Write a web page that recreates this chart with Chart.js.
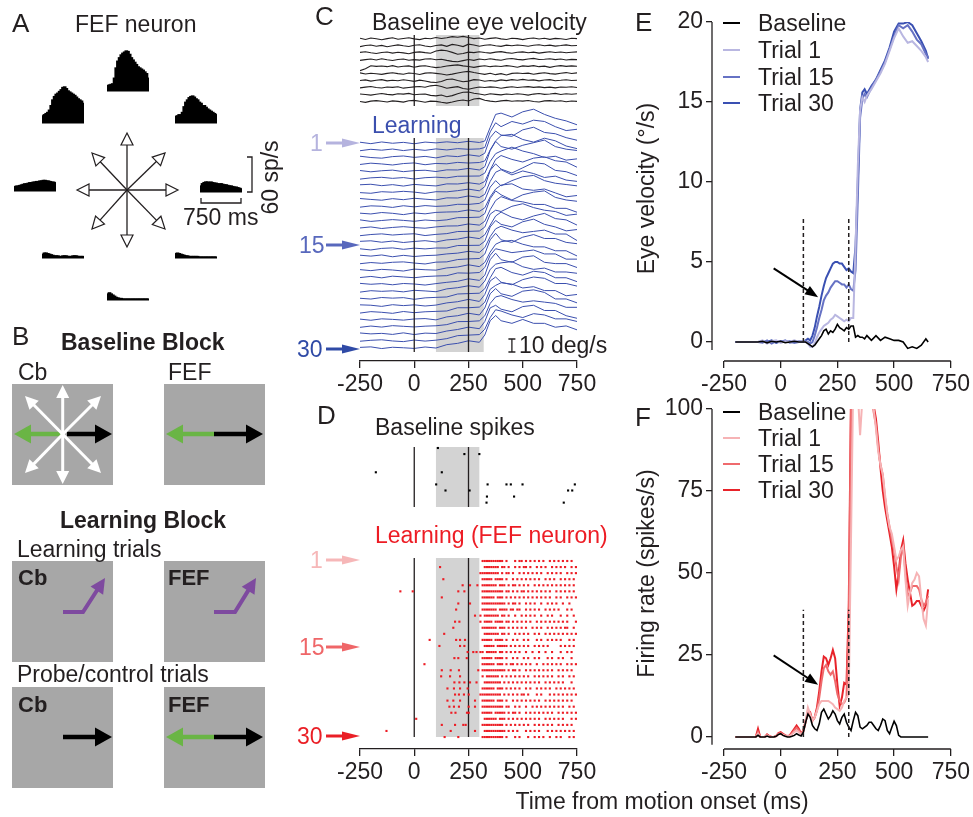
<!DOCTYPE html>
<html>
<head>
<meta charset="utf-8">
<title>FEF neuron learning</title>
<script src="https://cdn.jsdelivr.net/npm/chart.js@4.4.1/dist/chart.umd.min.js"></script>
<style>
  body { margin: 0; background: #fff; }
  #fig { position: relative; width: 973px; height: 817px; overflow: hidden;
         font-family: "Liberation Sans", Arial, Helvetica, sans-serif; color: #231f20; }
  #fig canvas { position: absolute; }
  .t { position: absolute; white-space: nowrap; z-index: 5; }
</style>
</head>
<body>
<div id="fig"></div>
<script>
// ---------------- A: direction tuning (sp/s, 30 ms bins) ----------------
const aBinStart = [0,30,60,90,120,150,180,210,240,270,300,330,360,390,420,450,480,510,540,570,600,630,660,690,720];
const aUp        = [9,10,11,12,22,40,52,58,63,66,68,70,69,64,58,54,50,46,42,40,38,36,33,30,22];
const aUpLeft    = [12,14,16,18,22,30,40,46,50,52,55,58,62,63,60,56,54,52,50,48,45,42,40,38,34];
const aUpRight   = [11,12,14,13,18,28,36,40,44,46,47,45,42,40,36,34,30,30,27,24,22,20,18,16,14];
const aLeft      = [7,8,8,9,10,11,12,12,13,14,14,15,15,16,16,17,17,18,18,17,17,16,15,15,14];
const aRight     = [10,14,16,17,17,16,17,16,15,15,14,13,14,13,12,12,11,10,10,9,8,8,7,6,5];
const aDownLeft  = [6,8,8,7,6,5,4,3,3,3,2,2,3,3,3,2,2,2,3,3,3,2,2,2,2];
const aDownRight = [7,8,7,6,5,4,3,3,2,2,2,2,2,2,1,1,1,1,1,1,1,1,1,1,1];
const aDown      = [10,12,10,8,6,4,3,2,2,1,1,1,1,1,1,1,1,1,1,1,1,1,1,1,1];

// ---------------- C: single-trial eye velocity (deg/s) ----------------
const timeTicks = [-250, 0, 250, 500, 750];
const cBaseTime = [-250,-225,-200,-175,-150,-125,-100,-75,-50,-25,0,25,50,75,100,125,150,175,200,225,
  250,275,300,325,350,375,400,425,450,475,500,525,550,575,600,625,650,675,700,725,750];
const cBaseTraces = [
  [0.6,-0.4,0.8,0.2,-0.6, 0.3,0.9,-0.2,0.4,1.0, 0.1,-0.5,0.6,0.2,1.1, 0.4,0.9,1.8,1.4,2.0, 1.2,0.3,0.8,-0.2,0.5, 0.9,0.1,-0.4,0.6,0.3, -0.5,0.4,0.8,0.0,0.6, -0.3,0.5,0.2,-0.4,0.6, 0.3],
  [-0.5,0.3,0.7,-0.2,0.4, -0.6,0.2,0.8,0.1,-0.4, 0.5,0.9,0.0,-0.6,0.3, 0.8,-0.3,1.2,0.6,-0.5, 1.4,0.7,-0.2,0.5,0.9, 0.2,-0.3,0.6,0.1,0.7, 0.4,-0.2,0.5,0.9,0.2, 0.6,-0.1,0.3,0.8,0.1, 0.4],
  [0.4,0.9,0.1,-0.5,0.3, 0.7,-0.2,0.5,0.0,-0.6, 0.4,0.8,0.2,-0.3,1.5, 2.1,1.6,0.4,-1.0,-0.4, 0.6,0.2,0.9,0.3,-0.2, 0.6,1.0,0.2,-0.3,0.5, 0.8,0.1,0.6,-0.2,0.4, 0.9,0.3,0.7,0.1,0.5, 0.8],
  [-0.4,0.2,0.6,-0.1,0.8, 0.1,-0.5,0.3,0.7,-0.3, 0.2,-0.2,0.6,0.9,0.1, 0.5,-0.4,-1.2,-1.5,-0.6, 0.3,-0.4,0.6,0.1,0.8, 0.2,-0.3,0.7,1.0,0.4, 0.0,0.6,1.1,0.3,0.5, 0.8,0.2,0.6,-0.1,0.4, 0.2],
  [-3.0,-1.5,0.8,0.3,0.6, 0.1,0.9,-0.2,0.4,0.7, -0.3,0.5,0.8,0.0,-0.6, -0.2,0.6,1.1,1.5,0.7, 0.2,-0.4,0.3,0.8,0.1, 0.6,0.2,0.9,0.4,-0.3, 0.7,0.3,0.9,0.1,0.5, -0.4,0.4,0.9,0.3,0.7, 0.4],
  [0.7,-0.2,0.4,0.0,-0.5, 0.3,0.8,0.1,-0.4,0.6, 0.2,-0.6,0.5,0.8,0.3, -0.2,-0.9,-0.3,0.6,1.4, 1.8,0.9,0.2,-0.5,0.4, -0.7,0.1,-0.9,0.3,0.6, 0.2,0.5,-0.4,0.3,0.8, 0.1,-0.3,0.4,0.9,0.2, 0.7],
  [0.2,0.6,-0.3,0.4,0.8, -0.1,0.3,0.0,0.7,0.2, -0.5,0.4,-0.2,-1.1,-1.4, -0.6,0.9,1.3,0.2,-0.8, -0.3,0.8,0.5,-0.4,0.2, -0.3,0.6,0.1,0.8,0.4, 1.0,0.3,0.6,-0.1,0.5, 0.8,0.0,0.3,0.7,0.2, 0.4],
  [-0.2,0.4,0.9,0.1,-0.3, 0.5,0.2,0.7,-0.4,0.1, 0.6,0.9,0.3,1.4,1.8, 0.9,-0.4,0.2,0.8,-0.6, -1.2,-0.3,0.5,0.1,0.6, 0.3,-0.5,0.2,0.7,0.1, 0.5,0.8,0.2,0.6,0.0, 0.4,-0.2,0.5,0.3,0.7, 0.1],
  [0.5,0.1,-0.4,0.3,0.8, 0.2,-0.2,0.6,0.4,0.9, -0.1,0.3,0.5,-0.6,-1.0, -0.3,-1.6,-0.8,0.7,1.8, 2.0,1.0,0.4,-0.3,0.6, 0.2,-0.2,0.5,0.1,0.7, 0.3,-0.4,0.4,0.8,0.2, 0.5,0.9,0.1,0.6,0.3, 0.7],
  [0.0,-0.6,0.3,0.7,0.2, -0.3,0.5,0.1,-0.4,0.6, 0.9,0.2,-0.5,0.3,0.1, -0.6,-1.2,-0.4,0.6,1.2, 0.4,2.0,2.4,1.0,0.3, -0.2,0.5,0.9,0.2,0.6, 0.3,0.8,0.0,-0.3,0.5, 0.7,0.2,0.6,-0.2,0.4, 0.1]
];
const cLearnTime = [-250,-200,-150,-100,-50,0,50,100,150,200,250,300,325,350,375,400,450,500,550,600,650,700,750];
const cLearnTraces = [
  [0.6,-0.5,0.8,-0.2,0.5,-0.6,0.7,0.1, 0.9,0.2,1.3,0.4, 1.5,12,22,23, 20,24,26,22,19,17,14],
  [-0.5,0.6,-0.1,0.8,-0.4,0.6,-0.2,0.9, 0.1,1.1,0.6,0.9, 2.0,14,21,18, 22,20,23,22,18,15,16],
  [0.7,-0.3,-0.8,0.4,0.9,-0.2,0.6,-0.6, 1.0,0.4,1.8,0.7, 3.0,15,20,17, 16,21,23,19,18,15,13],
  [-0.2,0.8,0.2,-0.6,0.5,1.0,-0.4,0.6, 0.3,1.4,0.9,1.3, 2.5,11,18,22, 23,19,17,20,18,14,12],
  [0.6,-0.4,0.4,0.9,-0.3,0.5,0.8,-0.2, 1.1,1.0,2.2,1.0, 3.5,16,23,19, 17,20,22,24,19,17,16],
  [-0.6,0.4,0.8,0.0,0.6,-0.5,0.5,0.9, 0.4,1.6,1.7,1.8, 4.0,13,19,21, 24,21,19,16,17,14,15],
  [0.5,0.9,-0.2,0.6,-0.5,0.8,0.1,-0.4, 1.2,1.1,2.1,1.0, 3.0,12,20,23, 20,18,21,22,19,18,14],
  [-0.1,-0.6,0.6,0.2,0.9,0.3,-0.7,0.6, 0.5,1.4,2.6,1.3, 4.5,17,22,18, 15,19,23,22,17,16,13],
  [0.8,0.1,-0.5,0.7,-0.1,1.0,0.3,-0.3, 1.3,1.2,2.8,1.6, 4.0,14,21,23, 19,22,20,17,18,15,14],
  [-0.4,0.6,0.3,-0.6,0.7,-0.2,0.8,0.2, 0.6,1.8,1.7,2.5, 5.0,15,20,16, 20,23,24,20,18,17,16],
  [0.4,-0.2,0.9,0.3,-0.7,0.6,-0.1,1.0, 1.3,1.5,2.9,1.8, 4.5,13,19,22, 23,19,18,19,16,13,14],
  [0.7,-0.5,0.2,0.9,0.3,-0.4,0.6,0.0, 0.7,2.4,2.5,2.8, 5.5,17,23,20, 16,20,22,23,18,16,15],
  [-0.1,0.7,-0.5,0.3,0.9,0.2,-0.3,0.7, 1.4,1.5,3.0,2.1, 5.0,14,21,24, 21,20,18,18,15,15,12],
  [-0.6,0.3,0.8,-0.1,0.5,0.9,-0.5,0.4, 1.0,2.6,2.7,3.0, 6.0,16,19,18, 22,24,21,19,18,15,16],
  [0.5,0.9,-0.2,0.7,-0.4,0.4,1.0,0.0, 1.6,2.2,3.8,2.6, 5.5,13,20,23, 19,17,20,22,18,17,13],
  [0.2,-0.7,0.5,0.9,-0.2,0.7,0.1,0.8, 0.8,2.7,2.8,2.9, 6.0,17,22,19, 17,21,23,19,17,14,15],
  [0.7,0.0,0.9,-0.5,0.6,-0.3,0.4,0.7, 1.7,2.3,3.7,2.8, 6.5,15,21,23, 20,18,19,20,17,17,12],
  [-0.4,0.5,-0.1,0.7,1.0,0.1,-0.6,0.8, 1.0,2.8,3.3,3.6, 7.0,18,23,18, 16,20,22,19,19,16,15],
  [0.5,-0.3,0.7,0.2,-0.6,0.9,0.4,0.1, 1.8,2.5,4.2,2.8, 6.0,14,20,22, 23,20,18,18,15,15,11],
  [-0.2,0.7,-0.4,0.9,0.3,-0.3,0.6,1.0, 1.3,3.4,3.2,3.7, 7.5,17,22,21, 19,20,21,18,18,14,14],
  [0.8,0.1,0.6,-0.3,0.7,0.3,-0.5,0.6, 1.6,2.4,4.3,3.1, 7.0,19,24,19, 17,21,22,17,16,16,13],
  [-0.5,0.6,0.1,0.5,-0.3,0.9,0.4,-0.2, 2.0,2.9,4.4,3.3, 8.0,17,21,22, 23,19,17,18,15,15,14],
  [0.2,-0.4,0.8,0.3,0.7,-0.6,0.5,0.9, 1.2,3.5,3.8,4.1, 7.5,16,23,24, 20,18,21,20,16,16,13],
  [0.6,0.3,-0.6,0.7,0.0,0.6,-0.3,0.4, 2.1,3.0,4.8,3.2, 8.5,19,22,18, 16,20,22,21,17,17,15],
  [-0.3,0.8,0.3,-0.5,0.9,0.0,0.7,1.0, 1.3,3.8,3.8,4.3, 8.0,18,21,23, 22,19,20,17,17,13,14],
  [0.5,-0.4,0.7,0.3,-0.3,0.6,0.9,-0.1, 2.2,3.1,5.0,3.7, 9.0,20,24,20, 18,22,23,21,16,16,13],
  [-0.4,0.6,-0.2,0.9,0.4,-0.1,0.5,0.8, 1.7,4.0,4.1,4.6, 8.5,18,23,24, 21,19,20,19,18,15,15],
  [0.7,0.0,0.4,-0.4,0.8,-0.5,0.6,0.3, 2.2,3.4,5.2,4.0, 9.5,20,22,19, 17,21,22,18,18,14,12],
  [-0.2,0.5,0.9,0.0,-0.5,0.7,-0.1,0.6, 1.8,4.1,4.5,4.9, 9.0,18,24,23, 20,18,21,20,17,17,15],
  [0.5,0.9,-0.4,0.6,0.2,-0.3,0.8,0.0, 2.6,3.6,5.6,4.4, 10,21,25,21, 19,22,19,19,16,17,14]
];

// ---------------- D: spike rasters (ms) ----------------
const dBaseSpikes = [[109],[231,300],[],[],[-177,127],[],[101,338,425,445,499,740],[144,255,709,728],[335,460],[333,689]];
const dLearnEarly = [
  [],[119],[],[134],[223,257,291],[-64,-7,203,231],[127],[203,257],[193],[280],
  [188,208],[180],[138],[71,193,211,234],[116,211,231],[246,272,287],[185,203,242],[47],[127,168,206,295],[124,165,211],
  [185,208,231,257,287],[153,183,211,246],[188,206,229,251],[153,180,211,280],[162,183,206,251,280],[171,190,243,251],[9],[127,188,226,237],[-128,168,280],[140,203]
];
// 10 ms bins from 300 ms to 750 ms, x = spike
const dLearnLate = [
  ".xxxx xxxxx x.x.. .x.xx .x.x. x.x.x ..x.x .x.x. x.x..",
  "..xxx xxxx. xx.x. .x.x. xx.x. .x.x. x..x. x.x.x ..x.x",
  "xxxxx xxxx. x.xx. x..x. x.x.x .x.x. .x.x. x.x.. x.x.x",
  ".xxxx x.xxx x.x.. x.x.x .x.x. x.x.. x.x.x ..x.x .x.x.",
  ".xxxx xxx.x xx.x. xx.x. x.x.. x.x.x .x.x. x.x.x .x.x.",
  ".xxxx xxxxx x.xx. x.x.x x.x.x .x.x. x.x.. x.x.x .x.x.",
  ".xxxx xx.xx x.x.x .x.x. x.x.x .x.x. x.x.. x.x.. x.x.x",
  ".xxxx xxxxx xx.x. xx.x. .x.x. x..x. .x.x. x..x. .x...",
  ".xxxx xxx.x xxx.x x.xx. .x.x. x.x.. x.x.x .x... x.x..",
  "x.xxx xxxx. xx.x. .x..x .x.x. x..x. .x.x. ..x.. x..x.",
  "x.xxx x.xxx x.xx. x.x.x .x.x. .x.x. x.x.x .x.x. x...x",
  ".xxxx xxx.x xx.x. x.x.x .x..x .x.x. .x.x. x.x.x x..x.",
  "..xxx xxxx. xx.x. .x.x. x.x.. x.x.. x.x.x .x.x. x.x.x",
  ".xxxx x.xxx x.x.. x.x.. x.x.. .x.x. .x.x. x.x.. .x.x.",
  "..xxx xx.xx xxx.x .x.x. x.x.. x.x.x .x... ..x.x .x.x.",
  "xx.xx xxx.x x.x.x .x.x. .x..x ..x.. x..x. ..x.. x.x..",
  ".xxxx x.xxx x.x.. x.x.. x.x.. x.x.. .x.x. .x.x. ..x..",
  ".xxxx xx.xx x.x.x x.x.x .x.x. .x..x .x.x. x.x.. x.x.x",
  ".xxxx xxxxx xx.x. xx.x. .x.x. x.x.x .x.x. .x.x. x.x..",
  ".x.xx xxxx. x.x.x .x.x. x.x.. x.x.x .x.x. .x.x. .x.x.",
  "..xxx xxxxx .x.x. x.x.x .x.x. x.x.. x.x.x .x.x. ..x..",
  ".xxxx xx.xx x.x.x .x.x. .x.x. .x.x. x.x.. x.x.x .x.x.",
  "xxxxx xxxxx .x.x. x.x.x x.x.. .x.x. ..x.x .x.x. x.x.x",
  ".xxxx xx.xx x.x.. x.x.x .x.x. x.x.. x.x.x .x.x. x.x..",
  ".xxxx xxxxx x.xx. .x.x. .x..x .x.x. x.x.x .x.x. .x.x.",
  ".xxxx x.xxx xx.x. xx.x. .x.x. x.x.x .x.x. .x.x. x.x.x",
  "..xxx xxx.x xx.x. x.x.x .x.x. x.x.. x.x.x .x.x. ..x.x",
  ".xxxx xxxxx x.x.x .x.x. x.x.. x.x.x .x.x. .x.x. x.x..",
  "..xxx xxxxx xx.x. x.x.. .x.x. x.x.. .x.x. x.x.x .x.x.",
  ".xxxx xxxxx x.x.. .x.x. ..x.. x.x.x ..x.. x.x.. .x.x."
];

// ---------------- E: eye velocity (deg/s) ----------------
const eTime = [-200,-100,-80,-60,-40,-20,0,20,40,60,80,100,
  110,120,130,140,150,160,170,180,190,200,210,220,230,240,250,260,270,280,290,300,310,320,330,340,350,360,370,380,
  400,420,440,460,480,500,520,540,560,580,600,620,640,650];
const eBaseline = [0,0,0.05,-0.05,0.05,0,0.05,-0.05,0,0.05,0,0,
  0,-0.1,-0.2,-0.3,-0.2,0,0.2,0.4,0.7,0.8,0.5,0.7,0.6,0.8,1.1,0.9,0.8,0.7,0.9,0.8,1.0,1.0,0.3,0.4,0.3,0.3,0.2,0.4,
  0.1,0.4,0.1,0.3,0.2,0.1,0.1,0,-0.4,-0.3,-0.4,-0.2,0.2,0];
const eTrial1 = [0,0,0.1,-0.1,0.05,0.1,-0.05,0.05,0,0.1,0,0.05,
  0,-0.1,-0.3,-0.3,-0.1,0.3,0.6,0.8,1.0,1.1,1.2,1.4,1.5,1.7,1.6,1.5,1.4,1.3,1.4,1.3,1.5,1.5,6,11,14.5,15.3,15.0,15.4,
  15.8,16.3,16.8,17.4,18.2,19.0,19.6,19.1,18.7,18.8,18.5,18.2,17.8,17.5];
const eTrial15 = [0,0,-0.05,0.1,-0.1,0.05,0,0.1,-0.05,0,0.05,0,
  0.05,0,-0.1,0,0.4,0.9,1.5,2.0,2.6,2.9,3.1,3.4,3.6,3.8,3.8,3.7,3.6,3.6,3.4,3.6,3.3,3.2,4.5,9,14,15.2,15.5,15.3,
  15.9,16.4,16.9,17.5,18.3,19.1,19.8,19.6,19.8,19.4,18.9,18.6,18.0,17.8];
const eTrial30 = [0,0,0.05,0,0.1,-0.05,0.05,0,0.05,-0.05,0,0.05,
  0.1,0.2,0.1,0.4,0.9,1.6,2.2,2.9,3.5,4.0,4.3,4.6,4.9,5.0,5.0,4.9,4.9,4.7,4.5,4.6,4.4,4.3,6,10,14.5,15.6,15.8,15.5,
  16.0,16.4,17.0,17.6,18.4,19.4,19.9,19.9,20.0,19.8,19.3,18.8,18.2,17.7];
const eTicks = [0, 5, 10, 15, 20];

// ---------------- F: firing rate (spikes/s) ----------------
const fTime = [-200,-120,-110,-100,-90,-80,-70,-60,-50,-40,-30,-20,-10,
  0,10,20,30,40,50,60,70,80,90,100,110,120,130,140,150,160,170,180,190,
  200,210,220,230,240,250,260,270,280,290,300,310,320,330,340,350,360,370,380,390,
  400,410,420,430,440,450,460,470,480,490,500,510,520,530,540,550,560,570,580,590,
  600,610,620,630,640,650];
const fBaseline = [0,0,0,0.5,0,0,0,0.3,0,0,0,0.2,0.8,
  1.0,0.5,0.2,0,0,0.2,0.5,1.0,0.6,0.3,
  1.5,4.5,7.0,6.0,3.5,2.5,2.0,4.0,7.5,8.5,
  7.0,5.5,6.5,8.0,7.0,5.0,4.0,6.0,7.0,4.5,
  3.0,2.0,5.0,7.5,6.5,3.0,2.5,3.0,3.5,4.5,
  4.5,3.5,2.5,2.0,3.5,5.5,5.0,2.0,1.0,3.0,
  4.8,3.5,0.5,0,0,0,0,0,0,0,
  0,0,0,0,0,0];
const fTrial1 = [0,0,0,1.0,0,0,0,0.5,0.2,0,0,0.2,0.8,
  1.0,0.6,0.3,0.2,0.3,0.8,1.5,2.0,1.5,0.8,
  1.5,5.0,9.0,7.0,5.0,6.0,8.0,10.0,11.0,11.0,
  11.0,11.0,10.5,10.0,9.0,8.5,8.0,9.0,11.0,12.0,
  13,60,110,120,105,92,103,115,112,108,
  104,100,94,87,83,80,74,68,64,62,
  58,54,55,57,58,48,40,44,47,48,
  50,49,42,36,34,42];
const fTrial15 = [0,0,0,1.5,0,0,0,0.5,0.2,0,0,0.3,1.0,
  1.2,0.8,0.4,0.3,0.4,1.2,2.0,2.8,2.0,1.0,
  1.8,4.5,8.0,6.5,5.0,6.0,8.0,12.0,17.0,21.0,
  22.0,20.0,19.0,20.0,17.0,13.0,11.0,10.0,10.5,12.0,
  35,100,125,135,135,130,125,120,115,108,
  104,99,95,88,83,80,73,68,64,60,
  57,52,48,55,58,50,43,44,46,46,
  46,45,42,40,41,43];
const fTrial30 = [0,0,0,2.5,0,0,0,0.8,0.3,0,0,0.3,1.2,
  1.5,1.0,0.5,0.3,0.5,1.5,2.5,3.5,2.5,1.0,
  2.0,5.0,7.0,7.5,5.0,6.0,9.0,14.0,20.0,24.5,
  24.0,22.0,24.0,26.5,24.0,16.0,9.5,12.0,16.5,16.0,
  40,105,130,140,140,135,130,125,118,110,
  104,101,97,90,82,75,70,66,62,58,
  52,45,50,57,60,53,48,44,40,40.5,
  41.5,41.5,40,38.5,40,45];
const fTicks = [0, 25, 50, 75, 100];

// ---------------- setup ----------------
const INK = '#231f20';
const GREY_BOX = '#d3d3d3';
const TRACE_BLUE = '#3b4fae';
const RASTER_RED = '#ed1c24';
const eColors = ['#000000', '#b9b7e1', '#6672c4', '#3a50b2'];
const fColors = ['#000000', '#f6b3b5', '#ef6a6d', '#e8232a'];

Chart.defaults.font.family = '"Liberation Sans", Arial, Helvetica, sans-serif';
Chart.defaults.font.size = 23;
Chart.defaults.color = INK;
Chart.defaults.animation = false;
Chart.defaults.responsive = false;
Chart.defaults.events = [];
Chart.defaults.plugins.legend.display = false;
Chart.defaults.plugins.tooltip.enabled = false;

const fig = document.getElementById('fig');

function canvasAt(left, top, w, h) {
  const c = document.createElement('canvas');
  c.width = w; c.height = h;
  c.style.left = left + 'px'; c.style.top = top + 'px';
  c.style.width = w + 'px'; c.style.height = h + 'px';
  fig.appendChild(c);
  return c;
}

function label(text, x, cy, o = {}) {
  const size = o.size || 23;
  const d = document.createElement('div');
  d.className = 't';
  d.textContent = text;
  Object.assign(d.style, {
    left: x + 'px', top: (cy - size / 2) + 'px', fontSize: size + 'px', lineHeight: size + 'px',
    fontWeight: o.bold ? 'bold' : 'normal', color: o.color || INK
  });
  const tf = [];
  if (o.center || o.rotate) tf.push('translateX(-50%)');
  if (o.rotate) tf.push('rotate(-90deg)');
  if (tf.length) d.style.transform = tf.join(' ');
  fig.appendChild(d);
}

// filled or open arrow along a polyline, head on the last segment
function arrowTo(ctx, pts, o) {
  const n = pts.length;
  const [x1, y1] = pts[n - 2], [x2, y2] = pts[n - 1];
  const a = Math.atan2(y2 - y1, x2 - x1), ca = Math.cos(a), sa = Math.sin(a);
  const bx = x2 - o.len * ca, by = y2 - o.len * sa;
  ctx.save();
  ctx.strokeStyle = o.color; ctx.lineWidth = o.width; ctx.lineJoin = 'miter';
  ctx.beginPath();
  ctx.moveTo(pts[0][0], pts[0][1]);
  for (let i = 1; i < n - 1; i++) ctx.lineTo(pts[i][0], pts[i][1]);
  ctx.lineTo(bx + ca, by + sa);
  ctx.stroke();
  const nx = -sa * o.w / 2, ny = ca * o.w / 2;
  ctx.beginPath();
  ctx.moveTo(x2, y2); ctx.lineTo(bx + nx, by + ny); ctx.lineTo(bx - nx, by - ny); ctx.closePath();
  if (o.open) {
    ctx.fillStyle = '#fff'; ctx.fill();
    ctx.lineWidth = 1.2; ctx.stroke();
  } else {
    ctx.fillStyle = o.color; ctx.fill();
  }
  ctx.restore();
}

// ---------------- overlay: schematics of A and B, trial markers ----------------
const aStarCenter = [127, 190];
const aStarTips = [[127,133],[165,153],[178,190],[165,229],[127,247],[92,229],[77,190],[92,153]];
const bSquares = [[12,384],[164,384],[12,561],[164,561],[12,687],[164,687]];
const trialMarks = [
  [143, '#b5b3de'], [245, '#5868bd'], [349, '#2f4aa6'],
  [560, '#f6b7b8'], [647, '#ef6668'], [736, '#ea1f26']
];

new Chart(canvasAt(0, 0, 973, 817), {
  type: 'scatter',
  data: { datasets: [] },
  options: {
    layout: { padding: 0 },
    scales: {
      x: { type: 'linear', display: false, min: 0, max: 973 },
      y: { type: 'linear', display: false, min: 0, max: 817, reverse: true }
    }
  },
  plugins: [{
    id: 'schematics',
    afterDraw(chart) {
      const { ctx, scales: { x, y } } = chart;
      const P = (px, py) => [x.getPixelForValue(px), y.getPixelForValue(py)];
      ctx.save();
      // A: direction star
      aStarTips.forEach(tip => {
        arrowTo(ctx, [P(...aStarCenter), P(...tip)], { color: INK, width: 1.3, len: 12, w: 12, open: true });
      });
      // A: scale bars
      ctx.strokeStyle = INK; ctx.lineWidth = 1.3;
      ctx.beginPath();
      ctx.moveTo(...P(247, 157)); ctx.lineTo(...P(252, 157)); ctx.lineTo(...P(252, 192)); ctx.lineTo(...P(247, 192));
      ctx.moveTo(...P(201, 198)); ctx.lineTo(...P(201, 203)); ctx.lineTo(...P(241, 203)); ctx.lineTo(...P(241, 198));
      ctx.stroke();
      // B: grey squares
      ctx.fillStyle = '#a7a7a7';
      bSquares.forEach(([sx, sy]) => {
        const [p0x, p0y] = P(sx, sy), [p1x, p1y] = P(sx + 101, sy + 101);
        ctx.fillRect(p0x, p0y, p1x - p0x, p1y - p0y);
      });
      const GREEN = '#6ab545', PURPLE = '#7e4a9f', BLACK = '#000';
      const big = { width: 4.5, len: 17, w: 19 };
      // baseline Cb
      arrowTo(ctx, [P(63, 434), P(14, 434)], { color: GREEN, ...big });
      arrowTo(ctx, [P(67, 434), P(112, 434)], { color: BLACK, ...big });
      [[62.7, 385], [62.7, 484], [25, 396], [101, 396], [25, 473], [101, 473]].forEach(tip => {
        arrowTo(ctx, [P(62.7, 434.3), P(...tip)], { color: '#fff', width: 3, len: 13, w: 13 });
      });
      // baseline FEF
      arrowTo(ctx, [P(214, 434), P(166, 434)], { color: GREEN, ...big });
      arrowTo(ctx, [P(214, 434), P(263, 434)], { color: BLACK, ...big });
      // learning trials
      arrowTo(ctx, [P(63, 612), P(83, 612), P(105, 578)], { color: PURPLE, width: 4, len: 15, w: 15 });
      arrowTo(ctx, [P(214, 612), P(235, 612), P(256, 578)], { color: PURPLE, width: 4, len: 15, w: 15 });
      // probe / control trials
      arrowTo(ctx, [P(63, 737), P(112, 737)], { color: BLACK, ...big });
      arrowTo(ctx, [P(214, 737), P(166, 737)], { color: GREEN, ...big });
      arrowTo(ctx, [P(214, 737), P(263, 737)], { color: BLACK, ...big });
      // C and D trial markers
      trialMarks.forEach(([my, col]) => {
        arrowTo(ctx, [P(326, my), P(360, my)], { color: col, width: 3, len: 18, w: 9 });
      });
      ctx.restore();
    }
  }]
});

// ---------------- A: histograms ----------------
const A_H = 46, A_W = 42, A_RATE_PX = 34 / 60;   // 60 sp/s bar is 34 px
const aPanels = [
  [aUp, 107, 91], [aUpLeft, 42, 123], [aUpRight, 175, 123], [aLeft, 14, 191],
  [aRight, 200, 192], [aDownLeft, 42, 258], [aDownRight, 175, 258], [aDown, 107, 300]
];
aPanels.forEach(([rates, left, base]) => {
  new Chart(canvasAt(left, base - A_H, A_W, A_H + 2), {
    type: 'bar',
    data: {
      labels: aBinStart,
      datasets: [{ data: rates, backgroundColor: '#000', borderWidth: 0, inflateAmount: 1,
                   barPercentage: 1, categoryPercentage: 1 }]
    },
    options: {
      layout: { padding: { bottom: 2 } },
      scales: {
        x: { display: true, grid: { display: false, drawTicks: false }, ticks: { display: false },
             border: { display: true, color: '#000', width: 1.5 }, afterFit: s => { s.height = 0; } },
        y: { display: false, min: 0, max: A_H / A_RATE_PX }
      }
    }
  });
});

// ---------------- C: eye velocity traces ----------------
const C_LEFT = 300, C_TOP = 0, C_W = 320, C_H = 400;
const C_AXIS_Y = 361, C_AREA_TOP = 5, C_DEG_PX = 1.3;   // 10 deg/s = 13 px
const cVal = pageY => (C_AXIS_Y - pageY) / C_DEG_PX;
const cBaseRowY = j => 39 + 6.95 * j;
const cLearnRowY = k => 143 + 7.07 * k;

const cDatasets = [];
cBaseTraces.forEach((tr, j) => cDatasets.push({
  data: tr.map((v, i) => ({ x: cBaseTime[i], y: cVal(cBaseRowY(j)) + v })),
  borderColor: INK, borderWidth: 1.1, pointRadius: 0
}));
cLearnTraces.forEach((tr, k) => cDatasets.push({
  data: tr.map((v, i) => ({ x: cLearnTime[i], y: cVal(cLearnRowY(k)) + v })),
  borderColor: TRACE_BLUE, borderWidth: 1, pointRadius: 0
}));

function rasterAxisX(height) {
  return {
    type: 'linear', min: -250, max: 750,
    afterBuildTicks: s => { s.ticks = timeTicks.map(v => ({ value: v })); },
    afterFit: s => { s.height = height; },
    grid: { drawOnChartArea: false, tickLength: 7, color: INK, lineWidth: 1.3 },
    border: { display: true, color: INK, width: 1.3 },
    ticks: { padding: 3, maxRotation: 0, autoSkip: false }
  };
}

new Chart(canvasAt(C_LEFT, C_TOP, C_W, C_H), {
  type: 'line',
  data: { datasets: cDatasets },
  options: {
    layout: { padding: { left: 60, right: 43, top: C_AREA_TOP - C_TOP, bottom: 0 } },
    scales: {
      x: rasterAxisX(C_TOP + C_H - C_AXIS_Y),
      y: { type: 'linear', display: false, min: 0, max: cVal(C_AREA_TOP) }
    }
  },
  plugins: [{
    id: 'cDecor',
    beforeDatasetsDraw(chart) {
      const { ctx, scales: { x, y } } = chart;
      ctx.save();
      ctx.fillStyle = GREY_BOX;
      [[300, 35, 106], [320, 138, 352]].forEach(([tEnd, top, bot]) => {
        const x0 = x.getPixelForValue(100), x1 = x.getPixelForValue(tEnd);
        const y0 = y.getPixelForValue(cVal(top)), y1 = y.getPixelForValue(cVal(bot));
        ctx.fillRect(x0, y0, x1 - x0, y1 - y0);
      });
      ctx.restore();
    },
    afterDatasetsDraw(chart) {
      const { ctx, scales: { x, y } } = chart;
      ctx.save();
      ctx.strokeStyle = INK; ctx.lineWidth = 1.3;
      ctx.beginPath();
      [[35, 106], [138, 352]].forEach(([top, bot]) => {
        [0, 250].forEach(t => {
          ctx.moveTo(x.getPixelForValue(t), y.getPixelForValue(cVal(top)));
          ctx.lineTo(x.getPixelForValue(t), y.getPixelForValue(cVal(bot)));
        });
      });
      // 10 deg/s scale bar
      const bx = x.getPixelForValue(450);
      const b0 = y.getPixelForValue(cVal(352)), b1 = y.getPixelForValue(cVal(352) + 10);
      ctx.moveTo(bx, b0); ctx.lineTo(bx, b1);
      ctx.moveTo(bx - 3.5, b0); ctx.lineTo(bx + 3.5, b0);
      ctx.moveTo(bx - 3.5, b1); ctx.lineTo(bx + 3.5, b1);
      ctx.stroke();
      ctx.restore();
    }
  }]
});

// ---------------- D: spike rasters ----------------
const D_LEFT = 300, D_TOP = 400, D_W = 320, D_H = 417;
const D_AXIS_Y = 749, D_AREA_TOP = 405, D_ROW0_Y = 448, D_ROW_PX = 6.07;
const dVal = pageY => (pageY - D_ROW0_Y) / D_ROW_PX;
const D_LEARN0 = dVal(561);

const dBasePts = [];
dBaseSpikes.forEach((row, r) => row.forEach(t => dBasePts.push({ x: t, y: r })));
const dLearnPts = [];
dLearnEarly.forEach((row, k) => row.forEach(t => dLearnPts.push({ x: t, y: D_LEARN0 + k })));
dLearnLate.forEach((s, k) => {
  s.replace(/ /g, '').split('').forEach((c, i) => {
    if (c === 'x') dLearnPts.push({ x: 305 + 10 * i, y: D_LEARN0 + k });
  });
});

new Chart(canvasAt(D_LEFT, D_TOP, D_W, D_H), {
  type: 'scatter',
  data: {
    datasets: [
      { data: dBasePts, pointStyle: 'rect', pointRadius: 1.5, pointBorderWidth: 0, pointBackgroundColor: '#000' },
      { data: dLearnPts, pointStyle: 'rect', pointRadius: 1.5, pointBorderWidth: 0, pointBackgroundColor: RASTER_RED }
    ]
  },
  options: {
    layout: { padding: { left: 60, right: 43, top: D_AREA_TOP - D_TOP, bottom: 0 } },
    scales: {
      x: rasterAxisX(D_TOP + D_H - D_AXIS_Y),
      y: { type: 'linear', display: false, reverse: true, min: dVal(D_AREA_TOP), max: dVal(D_AXIS_Y) }
    }
  },
  plugins: [{
    id: 'dDecor',
    beforeDatasetsDraw(chart) {
      const { ctx, scales: { x, y } } = chart;
      ctx.save();
      ctx.fillStyle = GREY_BOX;
      [[447, 507], [558, 737]].forEach(([top, bot]) => {
        const x0 = x.getPixelForValue(100), x1 = x.getPixelForValue(300);
        const y0 = y.getPixelForValue(dVal(top)), y1 = y.getPixelForValue(dVal(bot));
        ctx.fillRect(x0, y0, x1 - x0, y1 - y0);
      });
      ctx.strokeStyle = INK; ctx.lineWidth = 1.3;
      ctx.beginPath();
      [[447, 507], [558, 737]].forEach(([top, bot]) => {
        [0, 250].forEach(t => {
          ctx.moveTo(x.getPixelForValue(t), y.getPixelForValue(dVal(top)));
          ctx.lineTo(x.getPixelForValue(t), y.getPixelForValue(dVal(bot)));
        });
      });
      ctx.stroke();
      ctx.restore();
    }
  }]
});

// ---------------- E and F: averages ----------------
const AX_LEFT_PAGE = 712, AX_M250_PAGE = 724, AX_750_PAGE = 951;
const PX_PER_MS = (AX_750_PAGE - AX_M250_PAGE) / 1000;
const X_MIN = -250 - (AX_M250_PAGE - AX_LEFT_PAGE) / PX_PER_MS;

function timeAxes(o) {
  return {
    x: {
      type: 'linear', min: X_MIN, max: 750,
      afterBuildTicks: s => { s.ticks = timeTicks.map(v => ({ value: v })); },
      afterFit: s => { s.height = o.xAxisH; },
      grid: { drawOnChartArea: false, tickLength: 7, color: INK, lineWidth: 1.3 },
      border: { display: false },
      ticks: { padding: 3, maxRotation: 0, autoSkip: false }
    },
    y: {
      type: 'linear', min: o.yMin, max: o.yMax,
      afterBuildTicks: s => { s.ticks = o.yTicks.map(v => ({ value: v })); },
      afterFit: s => { s.width = AX_LEFT_PAGE - 620; },
      grid: { drawOnChartArea: false, tickLength: 6, color: INK, lineWidth: 1.3 },
      border: { display: false },
      ticks: { padding: 3 }
    }
  };
}

function decorPlugin(o) {
  return {
    id: 'decor',
    afterDatasetsDraw(chart) {
      const { ctx, chartArea: a, scales: { x, y } } = chart;
      ctx.save();
      // offset spines
      ctx.strokeStyle = INK; ctx.lineWidth = 1.3;
      ctx.beginPath();
      ctx.moveTo(x.getPixelForValue(-250), a.bottom); ctx.lineTo(x.getPixelForValue(750), a.bottom);
      ctx.moveTo(a.left, y.getPixelForValue(o.yTicks[o.yTicks.length - 1])); ctx.lineTo(a.left, y.getPixelForValue(o.spineLow));
      ctx.stroke();
      // analysis window
      ctx.lineWidth = 1.5; ctx.setLineDash([4, 3]);
      ctx.beginPath();
      [100, 300].forEach(t => {
        ctx.moveTo(x.getPixelForValue(t), y.getPixelForValue(0));
        ctx.lineTo(x.getPixelForValue(t), y.getPixelForValue(o.dashTop));
      });
      ctx.stroke();
      ctx.setLineDash([]);
      arrowTo(ctx, [[x.getPixelForValue(o.arrow[0]), y.getPixelForValue(o.arrow[1])],
                    [x.getPixelForValue(o.arrow[2]), y.getPixelForValue(o.arrow[3])]],
              { color: '#000', width: 2, len: 13, w: 10 });
      // legend swatches
      ctx.lineWidth = 2;
      o.colors.forEach((c, i) => {
        ctx.strokeStyle = c;
        ctx.beginPath();
        ctx.moveTo(103, o.legendY[i]); ctx.lineTo(120, o.legendY[i]);
        ctx.stroke();
      });
      ctx.restore();
    }
  };
}

const lineSet = (time, vals, color, width) => ({
  data: vals.map((v, i) => ({ x: time[i], y: v })), borderColor: color, borderWidth: width, pointRadius: 0
});

// E
const E_TOP = 0, E_AREA_TOP = 22, E_AXIS_Y = 361, E_ZERO_Y = 342, E_PX = 16;
new Chart(canvasAt(620, E_TOP, 353, 400), {
  type: 'line',
  data: { datasets: [
    lineSet(eTime, eBaseline, eColors[0], 1.6),
    lineSet(eTime, eTrial1, eColors[1], 2),
    lineSet(eTime, eTrial15, eColors[2], 2),
    lineSet(eTime, eTrial30, eColors[3], 2)
  ] },
  options: {
    layout: { padding: { top: E_AREA_TOP - E_TOP, right: 973 - AX_750_PAGE, left: 0, bottom: 0 } },
    scales: timeAxes({ xAxisH: E_TOP + 400 - E_AXIS_Y, yMin: -(E_AXIS_Y - E_ZERO_Y) / E_PX, yMax: 20, yTicks: eTicks })
  },
  plugins: [decorPlugin({ yTicks: eTicks, spineLow: -0.5, dashTop: 7.8, arrow: [-31, 4.6, 165, 2.8],
                          colors: eColors, legendY: [23, 50, 77, 103] })]
});

// F
const F_TOP = 390, F_AREA_TOP = 409, F_AXIS_Y = 749, F_ZERO_Y = 737, F_PX = 3.28;
new Chart(canvasAt(620, F_TOP, 353, 400), {
  type: 'line',
  data: { datasets: [
    lineSet(fTime, fBaseline, fColors[0], 1.6),
    lineSet(fTime, fTrial1, fColors[1], 2),
    lineSet(fTime, fTrial15, fColors[2], 2),
    lineSet(fTime, fTrial30, fColors[3], 2)
  ] },
  options: {
    layout: { padding: { top: F_AREA_TOP - F_TOP, right: 973 - AX_750_PAGE, left: 0, bottom: 0 } },
    scales: timeAxes({ xAxisH: F_TOP + 400 - F_AXIS_Y, yMin: -(F_AXIS_Y - F_ZERO_Y) / F_PX, yMax: 100, yTicks: fTicks })
  },
  plugins: [decorPlugin({ yTicks: fTicks, spineLow: -2.4, dashTop: 38.8, arrow: [-31, 24.9, 165, 15.9],
                          colors: fColors, legendY: [22, 48, 74, 100] })]
});

// ---------------- text ----------------
label('A', 12, 23, { size: 26 });
label('FEF neuron', 75, 24);
label('750 ms', 183, 217);
label('60 sp/s', 270, 177, { rotate: true });

label('B', 12, 336, { size: 26 });
label('Baseline Block', 61, 342, { bold: true });
label('Cb', 18, 372);
label('FEF', 168, 372);
label('Learning Block', 60, 520, { bold: true });
label('Learning trials', 17, 549);
label('Cb', 18, 578, { bold: true, size: 22 });
label('FEF', 168, 578, { bold: true, size: 22 });
label('Probe/control trials', 17, 674);
label('Cb', 18, 705, { bold: true, size: 22 });
label('FEF', 168, 705, { bold: true, size: 22 });

label('C', 315, 16, { size: 26 });
label('Baseline eye velocity', 372, 22);
label('Learning', 372, 125, { color: TRACE_BLUE });
label('1', 310, 143, { color: '#b5b3de' });
label('15', 299, 245, { color: '#5868bd' });
label('30', 297, 349, { color: '#2f4aa6' });
label('10 deg/s', 519, 345);

label('D', 317, 415, { size: 26 });
label('Baseline spikes', 375, 427);
label('Learning (FEF neuron)', 375, 535, { color: RASTER_RED });
label('1', 310, 560, { color: '#f6b7b8' });
label('15', 299, 647, { color: '#ef6668' });
label('30', 297, 736, { color: '#ea1f26' });

label('E', 635, 22, { size: 26 });
label('Eye velocity (°/s)', 646, 188, { rotate: true });
['Baseline', 'Trial 1', 'Trial 15', 'Trial 30'].forEach((s, i) => label(s, 758, [23, 50, 77, 103][i]));

label('F', 635, 417, { size: 26 });
label('Firing rate (spikes/s)', 646, 573, { rotate: true });
['Baseline', 'Trial 1', 'Trial 15', 'Trial 30'].forEach((s, i) => label(s, 758, [412, 438, 464, 490][i]));

label('Time from motion onset (ms)', 662, 801, { center: true });
</script>
</body>
</html>
